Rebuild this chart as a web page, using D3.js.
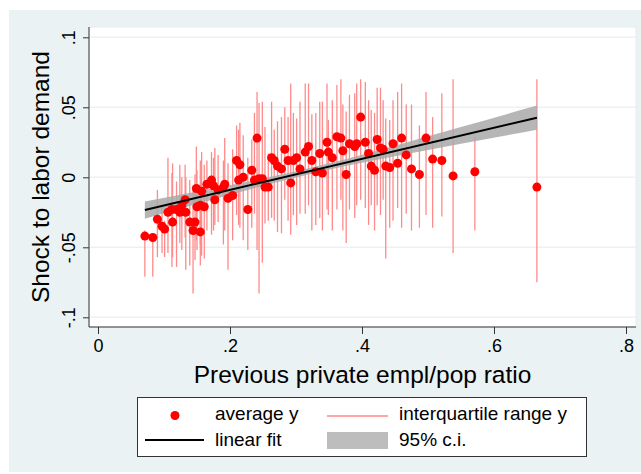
<!DOCTYPE html>
<html>
<head>
<meta charset="utf-8">
<script src="https://cdnjs.cloudflare.com/ajax/libs/d3/7.8.5/d3.min.js"></script>
<style>
  body { margin: 0; background: #fff; }
  svg text { font-family: "Liberation Sans", Arial, Helvetica, sans-serif; fill: #000; }
</style>
</head>
<body>
<div id="wrapper"></div>
<script>
// binned scatter: x bin, mean y and interquartile range of y
const xVals = [
  0.071, 0.083, 0.090, 0.097, 0.101, 0.106, 0.112, 0.113, 0.119, 0.124,
  0.127, 0.132, 0.133, 0.139, 0.144, 0.147, 0.150, 0.155, 0.149, 0.157,
  0.155, 0.161, 0.165, 0.172, 0.175, 0.177, 0.182, 0.190, 0.192, 0.197,
  0.204, 0.210, 0.213, 0.215, 0.220, 0.227, 0.233, 0.237, 0.241, 0.244,
  0.249, 0.253, 0.258, 0.263, 0.267, 0.272, 0.278, 0.283, 0.288, 0.292,
  0.296, 0.301, 0.306, 0.314, 0.319, 0.324, 0.330, 0.336, 0.340, 0.347,
  0.349, 0.355, 0.362, 0.368, 0.371, 0.376, 0.381, 0.389, 0.392, 0.398,
  0.405, 0.410, 0.414, 0.419, 0.423, 0.428, 0.432, 0.436, 0.442, 0.447,
  0.454, 0.460, 0.467, 0.475, 0.487, 0.497, 0.507, 0.521, 0.538, 0.571,
  0.665
]
const meanVals = [
  -0.042, -0.043, -0.030, -0.035, -0.037, -0.025, -0.023, -0.032, -0.023, -0.025,
  -0.020, -0.016, -0.025, -0.032, -0.038, -0.032, -0.021, -0.039, -0.008, -0.010,
  -0.020, -0.021, -0.005, -0.002, -0.006, -0.016, -0.009, -0.007, -0.005, -0.015,
  -0.013, 0.012, -0.002, 0.009, 0.000, -0.023, 0.005, -0.002, 0.028, -0.001,
  -0.001, -0.007, -0.007, 0.014, 0.012, 0.008, 0.006, 0.020, 0.012, -0.004,
  0.012, 0.014, 0.006, 0.018, 0.022, 0.012, 0.004, 0.017, 0.003, 0.025,
  0.018, 0.014, 0.029, 0.028, 0.019, 0.002, 0.024, 0.022, 0.024, 0.043,
  0.025, 0.017, 0.008, 0.005, 0.027, 0.021, 0.020, 0.008, 0.007, 0.024,
  0.010, 0.028, 0.016, 0.006, 0.002, 0.028, 0.013, 0.012, 0.001, 0.004,
  -0.007
]
const q75Vals = [
  -0.038, -0.040, -0.009, -0.021, -0.031, 0.014, 0.003, 0.010, -0.003, 0.009,
  0.000, 0.009, 0.000, -0.002, -0.009, 0.002, 0.005, -0.013, 0.022, 0.018,
  0.012, 0.009, 0.012, 0.018, 0.014, 0.021, 0.016, 0.012, 0.028, 0.010,
  0.020, 0.037, 0.034, 0.039, 0.030, 0.014, 0.027, 0.046, 0.061, 0.053,
  0.054, 0.036, 0.017, 0.054, 0.034, 0.040, 0.043, 0.050, 0.043, 0.067,
  0.046, 0.042, 0.054, 0.067, 0.067, 0.045, 0.046, 0.054, 0.054, 0.067,
  0.041, 0.055, 0.066, 0.070, 0.052, 0.047, 0.059, 0.060, 0.067, 0.070,
  0.068, 0.055, 0.048, 0.046, 0.064, 0.064, 0.055, 0.042, 0.041, 0.055,
  0.061, 0.067, 0.052, 0.052, 0.037, 0.061, 0.043, 0.060, 0.070, 0.029,
  0.070
]
const q25Vals = [
  -0.071, -0.071, -0.057, -0.054, -0.057, -0.054, -0.064, -0.057, -0.064, -0.047,
  -0.052, -0.043, -0.066, -0.063, -0.083, -0.059, -0.052, -0.063, -0.045, -0.056,
  -0.048, -0.058, -0.038, -0.041, -0.038, -0.034, -0.032, -0.048, -0.038, -0.066,
  -0.045, -0.027, -0.034, -0.036, -0.045, -0.052, -0.036, -0.026, -0.052, -0.083,
  -0.061, -0.033, -0.031, -0.029, -0.031, -0.039, -0.040, -0.016, -0.031, -0.041,
  -0.027, -0.034, -0.026, -0.026, -0.020, -0.038, -0.034, -0.029, -0.038, -0.023,
  -0.027, -0.038, -0.023, -0.016, -0.038, -0.047, -0.023, -0.029, -0.020, -0.016,
  -0.022, -0.034, -0.020, -0.038, -0.020, -0.027, -0.016, -0.058, -0.036, -0.031,
  -0.022, -0.036, -0.026, -0.038, -0.036, -0.027, -0.036, -0.028, -0.054, -0.038,
  -0.075
]

// linear fit and its 95% band
const fitX = [0.071, 0.665]
const fitY = [-0.0233, 0.0426]
const ciX = [0.071, 0.15, 0.25, 0.35, 0.45, 0.55, 0.665]
const ciLo = [-0.0296, -0.0190, -0.0061, 0.0054, 0.0150, 0.0239, 0.0340]
const ciHi = [-0.0172, -0.0101, -0.0009, 0.0100, 0.0226, 0.0359, 0.0512]

const xTicks = [0, 0.2, 0.4, 0.6, 0.8]
const xTickLabels = ["0", ".2", ".4", ".6", ".8"]
const yTicks = [-0.1, -0.05, 0, 0.05, 0.1]
const yTickLabels = ["-.1", "-.05", "0", ".05", ".1"]

const legendItems = ["average y", "interquartile range y", "linear fit", "95% c.i."]

const width = 641
const height = 474
const plot = { left: 89, right: 636, top: 27, bottom: 327 }

const svg = d3.select("#wrapper").append("svg")
  .attr("width", width)
  .attr("height", height)

// graph region
svg.append("rect")
  .attr("x", 9).attr("y", 10)
  .attr("width", width - 9).attr("height", 462)
  .attr("fill", "#eaf2f3")

// plot region
svg.append("rect")
  .attr("x", plot.left).attr("y", plot.top)
  .attr("width", plot.right - plot.left).attr("height", plot.bottom - plot.top)
  .attr("fill", "#fff")
  .attr("stroke", "#e4ecee")

const xScale = d3.scaleLinear()
  .domain([0, 0.8])
  .range([98, 626])

const yScale = d3.scaleLinear()
  .domain([-0.1, 0.1])
  .range([317.3, 37.3])

// gridlines
svg.append("g")
  .selectAll("line")
  .data(yTicks)
  .join("line")
  .attr("x1", plot.left + 1).attr("x2", plot.right)
  .attr("y1", d => yScale(d)).attr("y2", d => yScale(d))
  .attr("stroke", "#eaf2f3")
  .attr("stroke-width", 1.5)

const data = xVals.map((x, i) => ({ x, y: meanVals[i], lo: q25Vals[i], hi: q75Vals[i] }))

// interquartile bars
svg.append("g")
  .selectAll("line")
  .data(data)
  .join("line")
  .attr("x1", d => xScale(d.x)).attr("x2", d => xScale(d.x))
  .attr("y1", d => yScale(d.hi)).attr("y2", d => yScale(d.lo))
  .attr("stroke", "#ff8a8a")
  .attr("stroke-width", 1.3)

// confidence band
const ciData = ciX.map((x, i) => ({ x, lo: ciLo[i], hi: ciHi[i] }))
const area = d3.area()
  .x(d => xScale(d.x))
  .y0(d => yScale(d.lo))
  .y1(d => yScale(d.hi))
  .curve(d3.curveMonotoneX)

svg.append("path")
  .datum(ciData)
  .attr("d", area)
  .attr("fill", "#a9a9a9")
  .attr("fill-opacity", 0.85)

// average y
svg.append("g")
  .selectAll("circle")
  .data(data)
  .join("circle")
  .attr("cx", d => xScale(d.x))
  .attr("cy", d => yScale(d.y))
  .attr("r", 4.5)
  .attr("fill", "#ff0000")

// fit line
svg.append("line")
  .attr("x1", xScale(fitX[0])).attr("y1", yScale(fitY[0]))
  .attr("x2", xScale(fitX[1])).attr("y2", yScale(fitY[1]))
  .attr("stroke", "#000")
  .attr("stroke-width", 2)

// axes
const xAxis = d3.axisBottom(xScale)
  .tickValues(xTicks)
  .tickFormat((d, i) => xTickLabels[i])
  .tickSize(7)
  .tickPadding(5)

const gx = svg.append("g")
  .attr("transform", `translate(0,${plot.bottom})`)
  .call(xAxis)
gx.select(".domain").remove()
gx.selectAll(".tick line").attr("stroke", "#333")
gx.selectAll(".tick text")
  .attr("font-size", 18)
  .attr("font-family", null)
  .attr("fill", "#000")

const yAxis = d3.axisLeft(yScale)
  .tickValues(yTicks)
  .tickFormat((d, i) => yTickLabels[i])
  .tickSize(6)

const gy = svg.append("g")
  .attr("transform", `translate(${plot.left},0)`)
  .call(yAxis)
gy.select(".domain").remove()
gy.selectAll(".tick line").attr("stroke", "#333")
gy.selectAll(".tick text")
  .attr("x", 0).attr("dy", 0)
  .attr("text-anchor", "middle")
  .attr("transform", "translate(-14,0) rotate(-90)")
  .attr("font-size", 18)
  .attr("font-family", null)
  .attr("fill", "#000")

svg.append("line")
  .attr("x1", plot.left).attr("x2", plot.right)
  .attr("y1", plot.bottom).attr("y2", plot.bottom)
  .attr("stroke", "#333")
svg.append("line")
  .attr("x1", plot.left).attr("x2", plot.left)
  .attr("y1", plot.top).attr("y2", plot.bottom)
  .attr("stroke", "#333")

// axis titles
svg.append("text")
  .attr("x", (plot.left + plot.right) / 2)
  .attr("y", 383)
  .attr("text-anchor", "middle")
  .attr("font-size", 24.5)
  .text("Previous private empl/pop ratio")

svg.append("text")
  .attr("transform", `translate(49,${(plot.top + plot.bottom) / 2}) rotate(-90)`)
  .attr("text-anchor", "middle")
  .attr("font-size", 24.5)
  .text("Shock to labor demand")

// legend
const legend = svg.append("g")
legend.append("rect")
  .attr("x", 137.5).attr("y", 397.5)
  .attr("width", 449).attr("height", 59)
  .attr("fill", "#fff")
  .attr("stroke", "#333")

legend.append("circle")
  .attr("cx", 175).attr("cy", 415.5).attr("r", 4.5)
  .attr("fill", "#ff0000")
legend.append("line")
  .attr("x1", 327).attr("x2", 388).attr("y1", 416).attr("y2", 416)
  .attr("stroke", "#ff8a8a").attr("stroke-width", 1.3)
legend.append("line")
  .attr("x1", 145).attr("x2", 204).attr("y1", 440).attr("y2", 440)
  .attr("stroke", "#000").attr("stroke-width", 2)
legend.append("rect")
  .attr("x", 327).attr("y", 432)
  .attr("width", 61).attr("height", 17)
  .attr("fill", "#bdbdbd")

const legendPos = [[215, 420], [399, 420], [215, 446], [399, 446]]
legend.selectAll("text.leg")
  .data(legendItems)
  .join("text")
  .attr("class", "leg")
  .attr("x", (d, i) => legendPos[i][0])
  .attr("y", (d, i) => legendPos[i][1])
  .attr("font-size", 19)
  .text(d => d)
</script>
</body>
</html>
